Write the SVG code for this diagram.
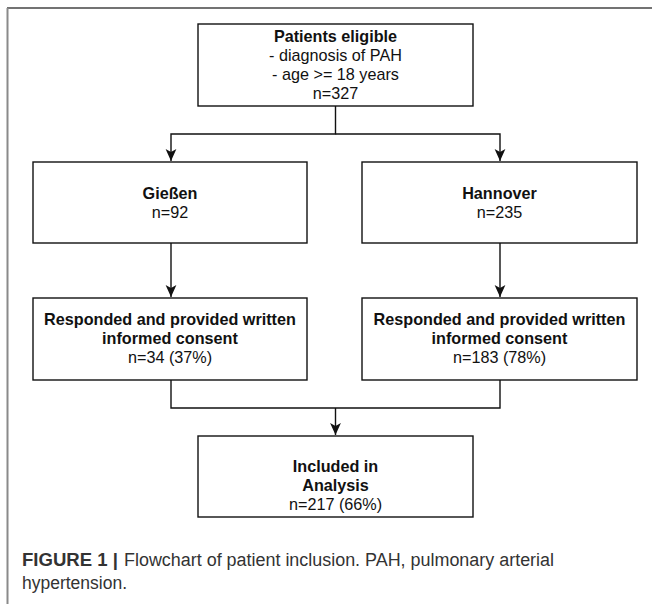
<svg xmlns="http://www.w3.org/2000/svg" width="652" height="604" viewBox="0 0 652 604">
<defs>
<style>
.box{fill:#fff;stroke:#111;stroke-width:1.4}
.t{font-family:"Liberation Sans",Arial,sans-serif;font-size:16.2px;fill:#111;text-anchor:middle}
.b{font-weight:bold}
.edge{fill:none;stroke:#111;stroke-width:1.4}
.cap{font-family:"Liberation Sans",Arial,sans-serif;font-size:18px;fill:#333}
</style>
<marker id="arr" markerUnits="userSpaceOnUse" markerWidth="12" markerHeight="12" viewBox="0 0 10 10" refX="10" refY="5" orient="auto">
<path d="M0,0.5 L10,5 L0,9.5 L2.5,5 z" fill="#111"/>
</marker>
</defs>
<rect width="652" height="604" fill="#fff"/>
<line x1="7" y1="8" x2="652" y2="8" stroke="#444" stroke-width="1.6"/>
<line x1="7.5" y1="8" x2="7.5" y2="604" stroke="#8a8a8a" stroke-width="2"/>

<g id="connectors">
<path class="edge" d="M335.5,106 V134 H171 V161" marker-end="url(#arr)"/>
<path class="edge" d="M335.5,134 H500 V161" marker-end="url(#arr)"/>
<path class="edge" d="M171,243 V297" marker-end="url(#arr)"/>
<path class="edge" d="M500,243 V297" marker-end="url(#arr)"/>
<path class="edge" d="M171,380 V408 H500 V380"/>
<path class="edge" d="M335.5,408 V435" marker-end="url(#arr)"/>
</g>

<g id="eligible">
<rect class="box" x="198" y="24" width="275" height="82"/>
<text class="t b" x="335.5" y="42">Patients eligible</text>
<text class="t" x="335.5" y="61">- diagnosis of PAH</text>
<text class="t" x="335.5" y="80">- age &gt;= 18 years</text>
<text class="t" x="335.5" y="99">n=327</text>
</g>

<g id="giessen">
<rect class="box" x="33" y="162" width="274" height="81"/>
<text class="t b" x="170" y="199">Gießen</text>
<text class="t" x="170" y="218">n=92</text>
</g>

<g id="hannover">
<rect class="box" x="362" y="162" width="275" height="81"/>
<text class="t b" x="499.5" y="199">Hannover</text>
<text class="t" x="499.5" y="218">n=235</text>
</g>

<g id="consent-giessen">
<rect class="box" x="33" y="298" width="274" height="82"/>
<text class="t b" x="170" y="325">Responded and provided written</text>
<text class="t b" x="170" y="344">informed consent</text>
<text class="t" x="170" y="363">n=34 (37%)</text>
</g>

<g id="consent-hannover">
<rect class="box" x="362" y="298" width="275" height="82"/>
<text class="t b" x="499.5" y="325">Responded and provided written</text>
<text class="t b" x="499.5" y="344">informed consent</text>
<text class="t" x="499.5" y="363">n=183 (78%)</text>
</g>

<g id="included">
<rect class="box" x="198" y="436" width="275" height="81"/>
<text class="t b" x="335.5" y="472">Included in</text>
<text class="t b" x="335.5" y="491">Analysis</text>
<text class="t" x="335.5" y="510">n=217 (66%)</text>
</g>

<g id="caption">
<text class="cap" x="22" y="566" font-weight="bold" fill="#222" textLength="96" lengthAdjust="spacingAndGlyphs">FIGURE 1 |</text>
<text class="cap" x="124" y="566" textLength="430" lengthAdjust="spacingAndGlyphs">Flowchart of patient inclusion. PAH, pulmonary arterial</text>
<text class="cap" x="22" y="589" textLength="105" lengthAdjust="spacingAndGlyphs">hypertension.</text>
</g>
</svg>
